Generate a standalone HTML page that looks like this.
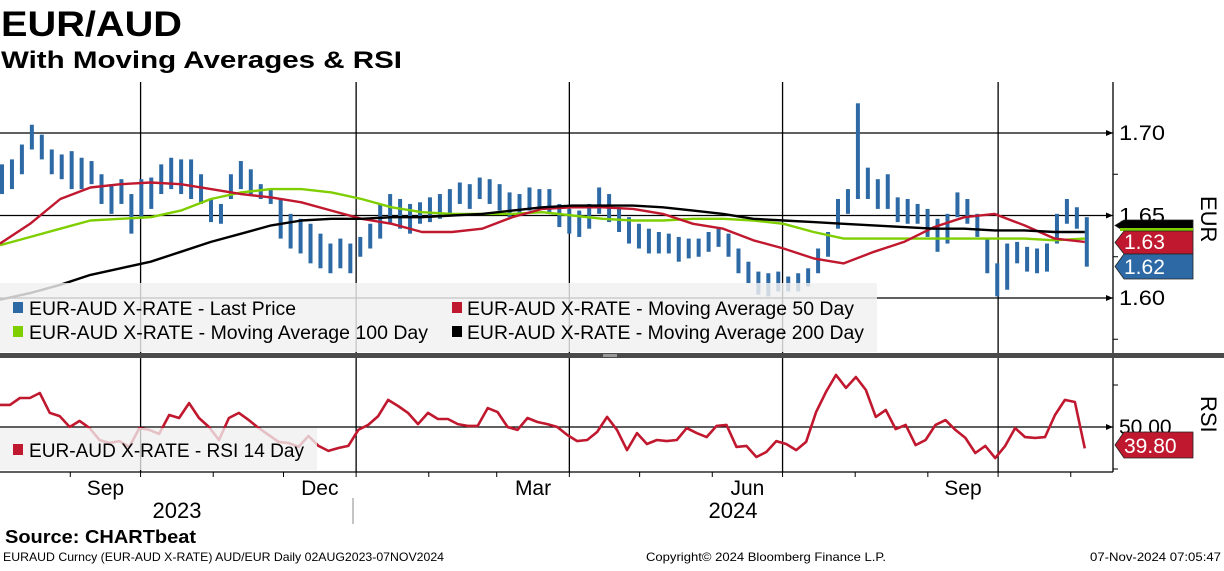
<!DOCTYPE html>
<html><head><meta charset="utf-8">
<style>
html,body{margin:0;padding:0;background:#fff;}
body{width:1224px;height:566px;overflow:hidden;font-family:"Liberation Sans",sans-serif;}
svg text{font-family:"Liberation Sans",sans-serif;}
</style></head>
<body>
<svg id="chart" width="1224" height="566" viewBox="0 0 1224 566" xmlns="http://www.w3.org/2000/svg">
  <text x="1" y="36" font-size="35" font-weight="bold" textLength="181" lengthAdjust="spacingAndGlyphs">EUR/AUD</text>
  <text x="1" y="68" font-size="24" font-weight="bold" textLength="401" lengthAdjust="spacingAndGlyphs">With Moving Averages &amp; RSI</text>
  <defs>
    <clipPath id="pclip"><rect x="0" y="82" width="1113" height="271"/></clipPath>
    <clipPath id="rclip"><rect x="0" y="358" width="1113" height="114"/></clipPath>
  </defs>
  <g id="grid"></g>
  <g id="price" clip-path="url(#pclip)"></g>
  <g id="rsi" clip-path="url(#rclip)"></g>
  <g id="axes"></g>
  <rect x="0" y="353" width="1224" height="5" fill="#4a4a4a"/>
  <rect x="603" y="354" width="14" height="3" fill="#999"/>
  <g>
    <rect x="0" y="283" width="877" height="69" fill="rgba(240,240,240,0.82)"/>
    <g><rect x="13" y="302" width="10" height="11" fill="#2c69a5"/><text x="29" y="315" font-size="19" textLength="267" lengthAdjust="spacingAndGlyphs">EUR-AUD X-RATE - Last Price</text></g>
    <g><rect x="452" y="302" width="10" height="11" fill="#c0182f"/><text x="467" y="315" font-size="19" textLength="387" lengthAdjust="spacingAndGlyphs">EUR-AUD X-RATE - Moving Average 50 Day</text></g>
    <g><rect x="13" y="326" width="10" height="11" fill="#7fcf00"/><text x="29" y="339" font-size="19" textLength="399" lengthAdjust="spacingAndGlyphs">EUR-AUD X-RATE - Moving Average 100 Day</text></g>
    <g><rect x="452" y="326" width="10" height="11" fill="#000"/><text x="467" y="339" font-size="19" textLength="397" lengthAdjust="spacingAndGlyphs">EUR-AUD X-RATE - Moving Average 200 Day</text></g>
  </g>
  <g>
    <rect x="0" y="428" width="317" height="42" fill="rgba(240,240,240,0.78)"/>
    <g><rect x="13" y="444" width="10" height="11" fill="#c0182f"/><text x="29" y="457" font-size="19" textLength="275" lengthAdjust="spacingAndGlyphs">EUR-AUD X-RATE - RSI 14 Day</text></g>
  </g>
  <g id="tags"></g>
  <text transform="translate(1201,196) rotate(90)" font-size="22">EUR</text>
  <text transform="translate(1201,396) rotate(90)" font-size="22">RSI</text>
  <text x="5" y="543" font-size="18" font-weight="bold" textLength="191" lengthAdjust="spacingAndGlyphs">Source: CHARTbeat</text>
  <text x="3" y="561" font-size="12" textLength="441" lengthAdjust="spacingAndGlyphs">EURAUD Curncy (EUR-AUD X-RATE) AUD/EUR  Daily 02AUG2023-07NOV2024</text>
  <text x="646" y="561" font-size="12" textLength="240" lengthAdjust="spacingAndGlyphs">Copyright© 2024 Bloomberg Finance L.P.</text>
  <text x="1090" y="561" font-size="12" textLength="131" lengthAdjust="spacingAndGlyphs">07-Nov-2024 07:05:47</text>
</svg>
<script>
const priceHigh = [1.681,1.684,1.693,1.705,1.699,1.690,1.687,1.689,1.685,1.683,1.675,1.669,1.672,1.663,1.672,1.673,1.681,1.685,1.684,1.684,1.675,1.660,1.657,1.675,1.683,1.678,1.669,1.666,1.660,1.651,1.648,1.645,1.639,1.633,1.636,1.633,1.637,1.645,1.657,1.663,1.660,1.657,1.658,1.661,1.663,1.666,1.670,1.669,1.673,1.672,1.669,1.664,1.663,1.667,1.666,1.666,1.657,1.654,1.653,1.657,1.667,1.663,1.654,1.649,1.645,1.642,1.640,1.639,1.637,1.636,1.636,1.640,1.643,1.639,1.630,1.622,1.616,1.615,1.616,1.613,1.615,1.618,1.630,1.640,1.660,1.666,1.718,1.679,1.672,1.675,1.661,1.660,1.657,1.654,1.648,1.651,1.664,1.660,1.651,1.636,1.621,1.633,1.634,1.631,1.630,1.633,1.651,1.660,1.655,1.649];
const priceLow = [1.663,1.666,1.675,1.690,1.684,1.675,1.672,1.666,1.666,1.669,1.657,1.651,1.657,1.639,1.648,1.654,1.663,1.666,1.663,1.660,1.657,1.646,1.645,1.660,1.666,1.663,1.660,1.657,1.636,1.630,1.627,1.621,1.618,1.615,1.618,1.615,1.625,1.630,1.636,1.645,1.642,1.639,1.645,1.646,1.648,1.651,1.657,1.654,1.660,1.657,1.653,1.649,1.651,1.653,1.654,1.651,1.643,1.639,1.637,1.642,1.651,1.646,1.640,1.633,1.630,1.627,1.627,1.627,1.622,1.624,1.625,1.628,1.631,1.625,1.615,1.609,1.602,1.601,1.604,1.604,1.604,1.607,1.615,1.625,1.642,1.651,1.660,1.660,1.654,1.654,1.646,1.645,1.645,1.637,1.628,1.633,1.649,1.645,1.637,1.615,1.601,1.605,1.621,1.616,1.615,1.616,1.633,1.645,1.642,1.619];
const ma50 = [1.633,1.645,1.660,1.667,1.669,1.670,1.669,1.666,1.663,1.661,1.658,1.653,1.648,1.645,1.640,1.640,1.642,1.649,1.654,1.655,1.655,1.654,1.651,1.645,1.642,1.635,1.630,1.624,1.621,1.628,1.634,1.643,1.649,1.651,1.644,1.636,1.634];
const ma100 = [1.632,1.637,1.642,1.647,1.648,1.649,1.653,1.660,1.664,1.666,1.666,1.664,1.660,1.655,1.652,1.651,1.651,1.651,1.652,1.650,1.648,1.647,1.647,1.648,1.648,1.647,1.645,1.640,1.636,1.636,1.636,1.636,1.636,1.636,1.636,1.635,1.636];
const ma200 = [1.599,1.603,1.608,1.614,1.618,1.622,1.628,1.634,1.639,1.644,1.647,1.648,1.648,1.649,1.649,1.650,1.651,1.653,1.655,1.656,1.656,1.656,1.655,1.653,1.651,1.648,1.647,1.646,1.645,1.644,1.643,1.642,1.642,1.641,1.641,1.640,1.640];
const rsi = [60.5,60.5,63.8,63.8,66.2,56.7,55.2,50,52.9,49.5,43.8,42.4,43.3,40.5,49.5,48.6,46.7,55.7,54.3,61.4,54.3,50,43.8,54.3,56.7,53.3,49.5,46.2,42.9,42.4,40.5,45.7,41,38.6,40,41,48.6,51,55.2,62.9,60,56.7,51.4,56.7,53.8,53.8,51.4,50.5,50.5,59,57.1,50,48.6,54.3,52.4,51.4,50,46.2,43.3,43.8,47.6,54.8,48.6,39,47.1,41.9,43.8,43.3,43.8,49.5,47.1,45.2,50.5,51,40.5,41,35.7,38.1,43.3,41.9,39,42.9,57.1,66.7,74.8,68.6,73.8,67.6,54.8,58.1,49,51,41.4,43.8,51,53.3,48.6,44.8,37.6,41,35.2,41,49.5,45.2,44.8,45.2,55.7,62.9,61.9,39.8];
const priceTicks = [1.60, 1.65, 1.70];
const priceTickLabels = ["1.60", "1.65", "1.70"];
const monthStartDays = [30,60,91,121,152,183,212,243,273,304,334,365,396,426,457];
const monthLabels = [["Sep",0],["Dec",3],["Mar",6],["Jun",9],["Sep",12]];
const lastValues = {ma200:1.640, ma100:1.636, ma50:1.634, last:1.619, rsi:39.80};

const NS = "http://www.w3.org/2000/svg";
const TOTAL_DAYS = 463;
const xScale = d => d * 2.343;
const yP = v => 298 - (v - 1.60) * 1650;
const yR = v => 427 - (v - 50) * 2.1;
function mk(tag, attrs, parent){ const e=document.createElementNS(NS,tag); for(const k in attrs) e.setAttribute(k,attrs[k]); parent.appendChild(e); return e; }
const grid=document.getElementById('grid'), price=document.getElementById('price'), rsiG=document.getElementById('rsi'), axes=document.getElementById('axes'), tags=document.getElementById('tags');

priceTicks.forEach(t=>{
  const l=mk('line',{x1:0,x2:1113,y1:yP(t),y2:yP(t),stroke:'#000','stroke-width':1.3},grid);
  
  
});
const g50=mk('line',{x1:0,x2:1113,y1:yR(50),y2:yR(50),stroke:'#000','stroke-width':1.3},grid);


[1,4,7,10,13].forEach(m=>{
  const x=xScale(monthStartDays[m]);
  const l=mk('line',{x1:x,x2:x,y1:82,y2:472,stroke:'#000','stroke-width':1.3},grid);
  
  
});

const step = TOTAL_DAYS/(priceHigh.length-1);
priceHigh.forEach((h,i)=>{
  const x=xScale(i*step)+2, y1=yP(h), y2=yP(priceLow[i]);
  const r=mk('rect',{x:x-2,y:y1,width:4,height:Math.max(1,y2-y1),fill:'#2c69a5'},price);
  
  
});
function line(arr, yf, color, parent, name, w){
  const s=TOTAL_DAYS/(arr.length-1);
  const pts=arr.map((v,i)=>xScale(i*s).toFixed(1)+','+yf(v).toFixed(1)).join(' ');
  const p=mk('polyline',{points:pts,fill:'none',stroke:color,'stroke-width':w||2.4,'stroke-linejoin':'round'},parent);
  
  
}
line(ma100, yP, '#7fcf00', price, 'ma100-line');
line(ma50, yP, '#c0182f', price, 'ma50-line');
line(ma200, yP, '#000', price, 'ma200-line');
line(rsi, yR, '#c0182f', rsiG, 'rsi-line', 2.6);

const ax=mk('line',{x1:1113,x2:1113,y1:82,y2:472,stroke:'#000','stroke-width':1.3},axes);


priceTicks.forEach((t,i)=>{
  const y=yP(t);
  const a=mk('path',{d:`M1106 ${y-3} L1113 ${y} L1106 ${y+3}Z`,fill:'#000'},axes);
  
  
  const tx=mk('text',{x:1119,y:y+7,'font-size':21,textLength:46,lengthAdjust:'spacingAndGlyphs'},axes);
  tx.textContent=priceTickLabels[i];
  
  
});
[1.675,1.625,1.575].forEach(t=>{
  const m=mk('line',{x1:1113,x2:1118,y1:yP(t),y2:yP(t),stroke:'#000'},axes);
  
  
});
[70,30].forEach(t=>{
  const m=mk('line',{x1:1113,x2:1118,y1:yR(t),y2:yR(t),stroke:'#000'},axes);
  
  
});
const ra=mk('path',{d:`M1106 ${yR(50)-3} L1113 ${yR(50)} L1106 ${yR(50)+3}Z`,fill:'#000'},axes);


const rl=mk('text',{x:1119,y:yR(50)+7,'font-size':21},axes);
rl.textContent='50.00';



const bx=mk('line',{x1:0,x2:1113,y1:472,y2:472,stroke:'#000','stroke-width':1.3},axes);


monthStartDays.forEach(d=>{
  const x=xScale(d);
  const t=mk('line',{x1:x,x2:x,y1:472,y2:477,stroke:'#000'},axes);
  
  
});
monthLabels.forEach(([n,m])=>{
  const x=(xScale(monthStartDays[m])+xScale(monthStartDays[m+1]))/2;
  const t=mk('text',{x:x,y:495,'font-size':21,'text-anchor':'middle'},axes);
  t.textContent=n;
  
  
});
const y23=mk('text',{x:177,y:518,'font-size':22,'text-anchor':'middle'},axes);
y23.textContent='2023';


const y24=mk('text',{x:733,y:518,'font-size':22,'text-anchor':'middle'},axes);
y24.textContent='2024';


const ys=mk('line',{x1:353,x2:353,y1:498,y2:524,stroke:'#888'},axes);



function tag(y,h,fill,label,name){
  const p=mk('path',{d:`M1115 ${y+h/2} L1124 ${y} L1193 ${y} L1193 ${y+h} L1124 ${y+h}Z`,fill:fill,stroke:'#222','stroke-width':0.8},tags);
  
  
  if(label){
    const t=mk('text',{x:1124,y:y+h-5,'font-size':21,fill:'#fff'},tags);
    t.textContent=label;
    
    
  }
}
tag(220,11,'#000','', 'ma200-tag');
const gl=mk('rect',{x:1120,y:228,width:73,height:3,fill:'#7fcf00'},tags);


tag(231,23,'#c0182f',lastValues.ma50.toFixed(2),'ma50-tag');
tag(254,25,'#2c69a5',lastValues.last.toFixed(2),'last-price-tag');
tag(432,26,'#c0182f',lastValues.rsi.toFixed(2),'rsi-tag');
</script>
</body></html>
